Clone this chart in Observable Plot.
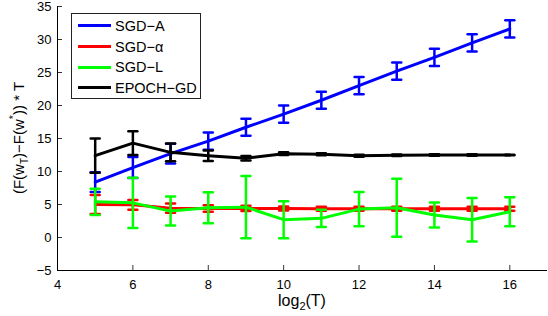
<!DOCTYPE html>
<html>
<head>
<meta charset="utf-8">
<script src="https://cdn.jsdelivr.net/npm/d3@7"></script>
<script src="https://cdn.jsdelivr.net/npm/@observablehq/plot@0.6"></script>
<style>
  html, body { margin: 0; padding: 0; background: #fff; }
  #wrap { position: relative; width: 548px; height: 316px; font-family: "Liberation Sans", Arial, Helvetica, sans-serif; }
  #legend { position: absolute; left: 71px; top: 13px; width: 130px; height: 86px; border: 1px solid #222; background: #fff; box-sizing: border-box; }
  .item { position: absolute; left: 6px; height: 20px; display: flex; align-items: center; font-size: 14.5px; color: #000; white-space: nowrap; }
  .swatch { width: 33px; height: 3px; margin-right: 4px; }
</style>
</head>
<body>
<div id="wrap"></div>
<script>
const T = [5, 6, 7, 8, 9, 10, 11, 12, 13, 14, 15, 16];
const sgdA      = [8.4, 10.6, 12.7, 14.6, 16.7, 18.7, 20.8, 23.0, 25.2, 27.3, 29.5, 31.6];
const sgdAErr   = [1.5, 1.6, 1.5, 1.3, 1.3, 1.3, 1.3, 1.3, 1.3, 1.3, 1.3, 1.3];
const sgdAlpha    = [5.0, 4.95, 4.45, 4.4, 4.4, 4.4, 4.35, 4.35, 4.35, 4.35, 4.35, 4.35];
const sgdAlphaErr = [1.45, 0.75, 0.7, 0.5, 0.4, 0.3, 0.3, 0.3, 0.3, 0.3, 0.3, 0.3];
const sgdL      = [5.4, 5.25, 4.0, 4.5, 4.6, 2.7, 2.9, 4.3, 4.5, 3.4, 2.7, 3.9];
const sgdLErr   = [2.0, 3.8, 2.2, 2.35, 4.7, 2.8, 1.3, 2.6, 4.4, 1.9, 3.3, 2.2];
const epoch     = [12.4, 14.3, 12.9, 12.4, 12.0, 12.7, 12.6, 12.4, 12.45, 12.5, 12.5, 12.5];
const epochErr  = [2.6, 1.8, 1.35, 0.8, 0.35, 0.2, 0.15, 0.15, 0.12, 0.1, 0.1, 0.05];

const seriesNames = ["SGD-A", "SGD-α", "SGD-L", "EPOCH-GD"];
const legendLabels = ["SGD−A", "SGD−α", "SGD−L", "EPOCH−GD"];
const colors = ["#0000ff", "#ff0000", "#00ff00", "#000000"];
const xTicks = [4, 6, 8, 10, 12, 14, 16];
const yTicks = [-5, 0, 5, 10, 15, 20, 25, 30, 35];
const xDomain = [4, 17];
const yDomain = [-5, 35];

const values = [sgdA, sgdAlpha, sgdL, epoch];
const errs = [sgdAErr, sgdAlphaErr, sgdLErr, epochErr];
const rows = [];
seriesNames.forEach((s, k) => {
  T.forEach((t, i) => rows.push({series: s, color: colors[k], x: t, y: values[k][i], lo: values[k][i] - errs[k][i], hi: values[k][i] + errs[k][i]}));
});

const capShape = { draw(ctx, l) { ctx.moveTo(0, 0); ctx.lineTo(0, -l); } };

const marks = [];
seriesNames.forEach((s) => {
  const d = rows.filter(r => r.series === s);
  const c = d[0].color;
  marks.push(Plot.line(d, {x: "x", y: "y", stroke: c, strokeWidth: 3}));
  marks.push(Plot.ruleX(d, {x: "x", y1: "lo", y2: "hi", stroke: c, strokeWidth: 2.5}));
  marks.push(Plot.vector(d, {x: "x", y: "lo", length: 9, rotate: 90, anchor: "middle", shape: capShape, stroke: c, strokeWidth: 2.5}));
  marks.push(Plot.vector(d, {x: "x", y: "hi", length: 9, rotate: 90, anchor: "middle", shape: capShape, stroke: c, strokeWidth: 2.5}));
});

const W = 548, H = 316;
const mL = 57, mT = 6, mR = 1, mB = 46;

const plot = Plot.plot({
  width: W, height: H,
  marginLeft: mL, marginTop: mT, marginRight: mR, marginBottom: mB,
  style: {fontFamily: "'Liberation Sans', Arial, Helvetica, sans-serif", fontSize: "13px", color: "#000", background: "#fff"},
  x: {domain: xDomain, axis: null},
  y: {domain: yDomain, axis: null},
  marks: [
    Plot.axisX(xTicks, {tickSize: 0, tickPadding: 9, label: null, fill: "#000"}),
    Plot.axisY(yTicks, {tickSize: 0, tickPadding: 6, label: null, fill: "#000"}),
    Plot.tickX(xTicks, {x: d => d, stroke: "#000", strokeWidth: 0.8, insetTop: H - mT - mB - 5}),
    Plot.tickY(yTicks, {y: d => d, stroke: "#000", strokeWidth: 0.8, insetRight: W - mL - mR - 5}),
    ...marks,
    Plot.ruleX([xDomain[0]], {stroke: "#000", strokeWidth: 1}),
    Plot.ruleY([yDomain[0]], {stroke: "#000", strokeWidth: 1})
  ]
});

const wrap = document.getElementById("wrap");
wrap.appendChild(plot);

const svg = d3.select(plot);
// y label
const yl = svg.append("text")
  .attr("transform", `translate(${24},${(mT + H - mB) / 2}) rotate(-90)`)
  .attr("text-anchor", "middle")
  .attr("font-size", 15)
  .attr("fill", "#000");
yl.append("tspan").text("(F(w");
yl.append("tspan").attr("font-size", 10).attr("dy", 4).text("T");
yl.append("tspan").attr("dy", -4).text(")−F(w");
yl.append("tspan").attr("font-size", 11).attr("dy", -7).text("*");
yl.append("tspan").attr("dy", 7).text(")) * T");
// x label
const xl = svg.append("text")
  .attr("x", (mL + W - mR) / 2)
  .attr("y", 306)
  .attr("text-anchor", "middle")
  .attr("font-size", 16)
  .attr("fill", "#000");
xl.append("tspan").text("log");
xl.append("tspan").attr("font-size", 11).attr("dy", 4).text("2");
xl.append("tspan").attr("dy", -4).text("(T)");

// legend
const leg = document.createElement("div");
leg.id = "legend";
legendLabels.forEach((lab, k) => {
  const it = document.createElement("div");
  it.className = "item";
  it.style.top = [1.5, 22.5, 43, 63.5][k] + "px";
  const sw = document.createElement("span");
  sw.className = "swatch";
  sw.style.background = colors[k];
  const tx = document.createElement("span");
  tx.textContent = lab;
  it.appendChild(sw); it.appendChild(tx);
  leg.appendChild(it);
});
wrap.appendChild(leg);
</script>
</body>
</html>
